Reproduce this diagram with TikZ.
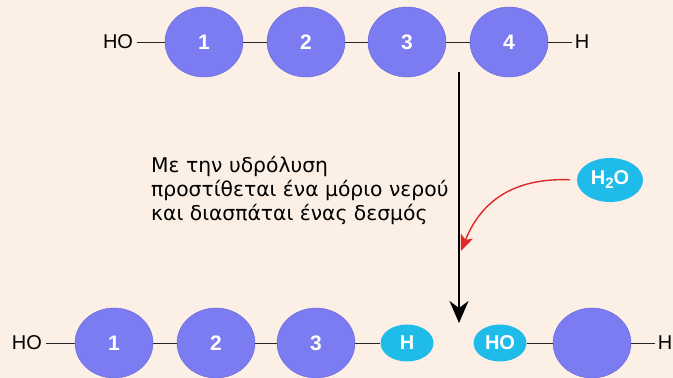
\documentclass[tikz,border=0pt]{standalone}
\usepackage{fontspec}
\setmainfont{Liberation Sans}
\newfontfamily\textegrec{DejaVu Sans}
\usetikzlibrary{shapes.geometric,arrows.meta}
\definecolor{fond}{HTML}{FCF0E6}
\definecolor{unite}{HTML}{7B7BF2}
\definecolor{bordunite}{HTML}{6666D6}
\definecolor{eau}{HTML}{1FBCEA}
\definecolor{rouge}{HTML}{E02828}

\begin{document}
\begin{tikzpicture}[x=1pt, y=1pt,
  monomere/.style={ellipse, fill=unite, draw=bordunite, minimum width=78pt, minimum height=70pt,
    inner sep=0pt, text=white, font=\bfseries\fontsize{21}{21}\selectfont},
  groupe/.style={ellipse, fill=eau, minimum width=53pt, minimum height=37pt,
    inner sep=0pt, text=white, font=\bfseries\fontsize{20}{20}\selectfont},
  bout/.style={inner xsep=4pt, inner ysep=0pt, font=\fontsize{20}{20}\selectfont},
  liaison/.style={line width=0.9pt, black!85}]
  % Fond
  \fill[fond] (0,0) rectangle (673,378);
  \useasboundingbox (0,0) rectangle (673,378);

  % Polymère de départ
  \node[bout] (ho) at (118,336) {HO};
  \node[monomere] (m1) at (204,336) {1};
  \node[monomere] (m2) at (306,336) {2};
  \node[monomere] (m3) at (407,336) {3};
  \node[monomere] (m4) at (509,336) {4};
  \node[bout, inner xsep=3pt] (h) at (582,336) {H};
  \draw[liaison] (ho) -- (m1) -- (m2) -- (m3) -- (m4) -- (h);

  % Flèche de réaction
  \coordinate (depart) at (459,306);
  \coordinate (arrivee) at (459,55);
  \draw[line width=1.1pt, -{Stealth[length=22pt, width=19pt, inset=7pt]}] (depart) -- (arrivee);

  % Texte
  \node[anchor=north west, align=left, inner sep=0pt,
    font=\textegrec\fontsize{20.3}{24}\selectfont] (texte) at (151,222)
    {Με την υδρόλυση\\προστίθεται ένα μόριο νερού\\και διασπάται ένας δεσμός};

  % Molécule d'eau
  \node[groupe, minimum width=66pt, minimum height=44pt] (eau) at (610,198)
    {H\raisebox{-4pt}{\fontsize{15}{15}\selectfont 2}O};
  \coordinate (cible) at (461,127);
  \draw[rouge, line width=1.4pt, -{Stealth[length=16pt, width=13pt, inset=4pt]}, shorten <=7pt]
    (eau.west) to[out=178, in=68, looseness=1.1] (cible);

  % Produits
  \node[bout] (ho2) at (27,35) {HO};
  \node[monomere] (n1) at (114,35) {1};
  \node[monomere] (n2) at (216,35) {2};
  \node[monomere] (n3) at (316,35) {3};
  \node[groupe] (h2) at (407,35) {H};
  \draw[liaison] (ho2) -- (n1) -- (n2) -- (n3) -- (h2);

  \node[groupe] (ho3) at (500,35) {HO};
  \node[monomere] (n4) at (592,35) {};
  \node[bout, inner xsep=3pt] (h3) at (665,35) {H};
  \draw[liaison] (ho3) -- (n4) -- (h3);
\end{tikzpicture}
\end{document}
